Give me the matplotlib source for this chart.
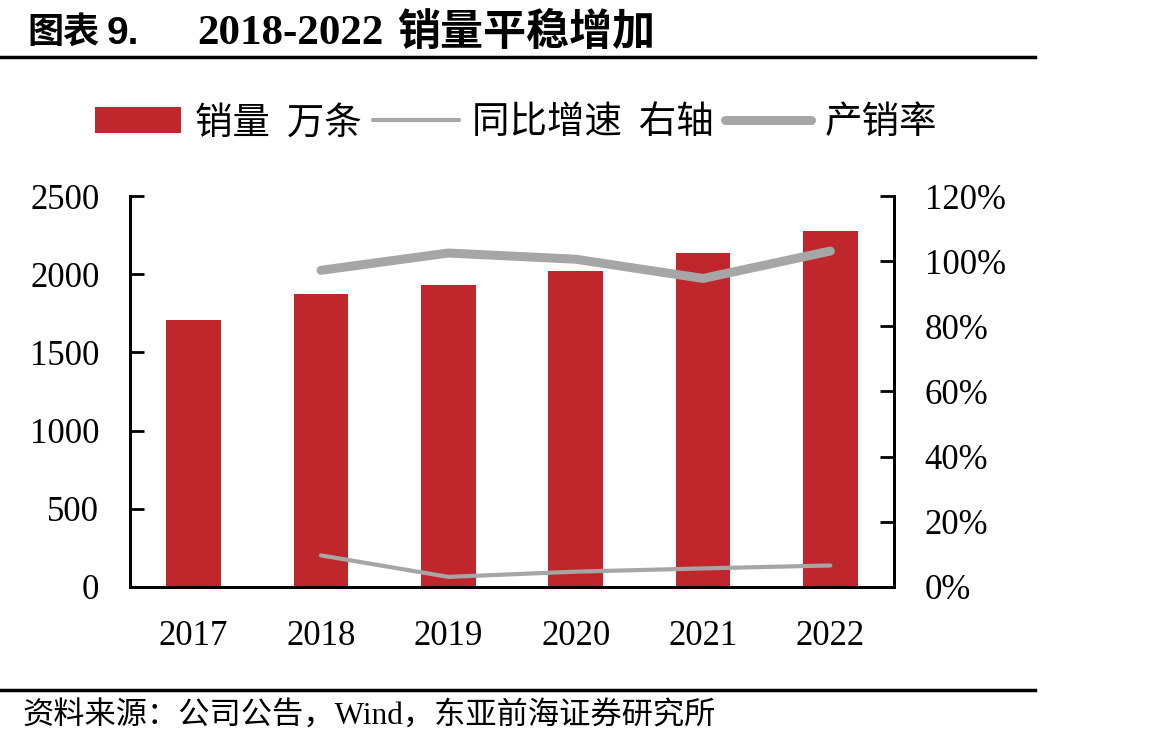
import numpy as np
import matplotlib.pyplot as plt
from matplotlib.ticker import FuncFormatter

plt.rcParams['font.family'] = ['Liberation Serif', 'Noto Sans CJK SC']

years = ['2017', '2018', '2019', '2020', '2021', '2022']
sales = [1705, 1871, 1929, 2020, 2136, 2276]          # 销量 万条
growth = [np.nan, 0.097, 0.031, 0.047, 0.057, 0.066]  # 同比增速
ratio = [np.nan, 0.972, 1.025, 1.006, 0.947, 1.031]   # 产销率

red = '#C0272D'
gray = '#A6A6A6'

fig = plt.figure(figsize=(11.7, 7.45), dpi=100)
ax = fig.add_axes([0.1111, 0.2121, 0.6530, 0.5248])
ax2 = ax.twinx()

x = np.arange(len(years))
b = ax.bar(x, sales, width=0.43, color=red, label='销量  万条', zorder=2)
l1, = ax2.plot(x, growth, color=gray, lw=3, solid_capstyle='round', label='同比增速  右轴')
l2, = ax2.plot(x, ratio, color=gray, lw=6.5, solid_capstyle='round', label='产销率')

ax.set_xlim(-0.5, 5.5)
ax.set_ylim(0, 2500)
ax.set_yticks([0, 500, 1000, 1500, 2000, 2500])
ax2.set_ylim(0, 1.2)
ax2.set_yticks(np.arange(0, 1.21, 0.2))
ax2.yaxis.set_major_formatter(FuncFormatter(lambda v, p: '%d%%' % round(v * 100)))

ax.set_xticks(x)
ax.set_xticklabels(years)
for a in (ax, ax2):
    a.spines['top'].set_visible(False)
    for s in a.spines.values():
        s.set_linewidth(2)
    a.tick_params(axis='y', direction='in', length=10, width=2, labelsize=25, pad=22)
ax.tick_params(axis='x', length=0, labelsize=25, pad=24)

fig.legend(handles=[b, l1, l2], loc='center', bbox_to_anchor=(0.441, 0.835), ncol=3,
           frameon=False, handlelength=2.3, handletextpad=0.35,
           columnspacing=0.3, prop={'family': ['Noto Sans CJK SC', 'DejaVu Sans'], 'size': 27})

# title in pieces to get the wide spacing of the original
fig.text(0.023, 0.955, '图表', fontsize=26, fontweight='bold', va='center', ha='left')
fig.text(0.091, 0.955, '9.', fontsize=28, fontweight='bold', va='center', ha='left',
         family='Liberation Sans')
fig.text(0.169, 0.955, '2018-2022', fontsize=31, fontweight='bold', va='center', ha='left')
fig.text(0.339, 0.955, '销量平稳增加', fontsize=31, fontweight='bold', va='center', ha='left')

fig.add_artist(plt.Line2D([0, 0.885], [0.923, 0.923], color='black', lw=2.5))
fig.add_artist(plt.Line2D([0, 0.885], [0.074, 0.074], color='black', lw=2.5))
fig.text(0.019, 0.038, '资料来源：公司公告，Wind，东亚前海证券研究所', fontsize=22.5,
         va='center', ha='left')

fig.savefig('out.png', dpi=100)
